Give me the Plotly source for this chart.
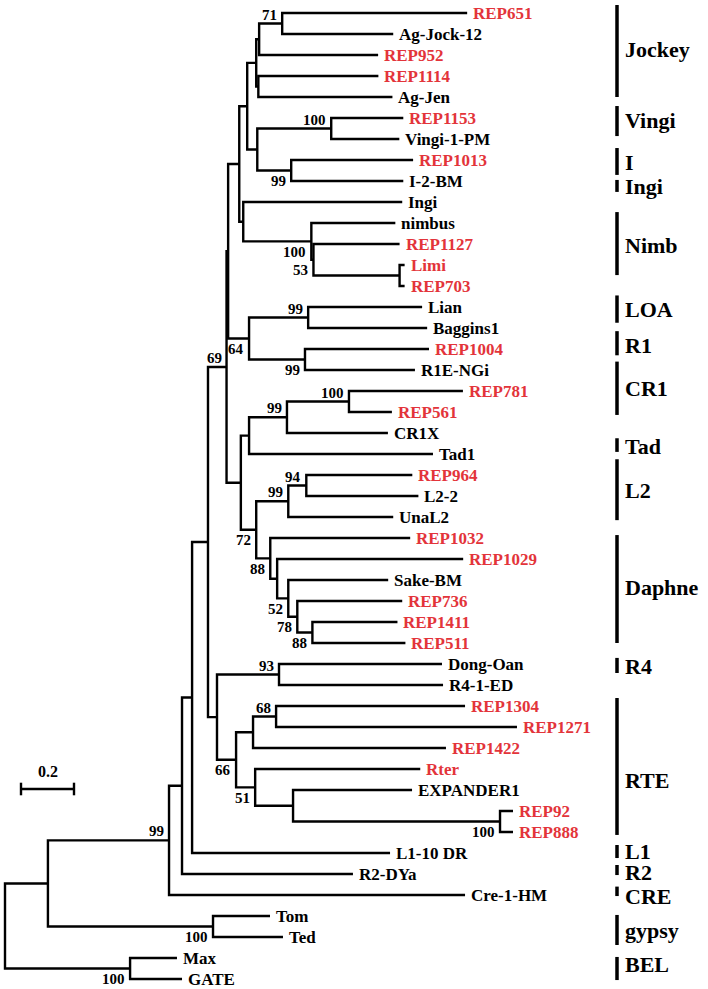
import plotly.graph_objects as go

# ---------------- data ----------------
node = ["root", "T1", "ING", "R2J", "L1J", "N2", "N69", "N1", "F", "D", "C", "A", "N71",
        "REP651", "Ag-Jock-12", "REP952", "B", "REP1114", "Ag-Jen", "E", "VG", "REP1153",
        "Vingi-1-PM", "IN", "REP1013", "I-2-BM", "G", "Ingi", "H", "nimbus", "I53", "REP1127",
        "LR", "Limi", "REP703", "N64", "LOA", "Lian", "Baggins1", "R1", "REP1004", "R1E-NGi",
        "L", "M", "CR99", "CR100", "REP781", "REP561", "CR1X", "Tad1", "N72", "L299", "N94",
        "REP964", "L2-2", "UnaL2", "N88", "REP1032", "P", "REP1029", "N52", "Sake-BM", "N78",
        "REP736", "N88b", "REP1411", "REP511", "RB", "R4", "Dong-Oan", "R4-1-ED", "RTE", "Q",
        "N68", "REP1304", "REP1271", "REP1422", "N51", "Rter", "S", "EXPANDER1", "N100r",
        "REP92", "REP888", "L1-10 DR", "R2-DYa", "Cre-1-HM", "TT", "Tom", "Ted", "MG", "Max",
        "GATE"]
parent = [None, "root", "T1", "ING", "R2J", "L1J", "N2", "N69", "N1", "F", "D", "C", "A",
          "N71", "N71", "A", "C", "B", "B", "D", "E", "VG",
          "VG", "E", "IN", "IN", "F", "G", "G", "H", "H", "I53",
          "I53", "LR", "LR", "N1", "N64", "LOA", "LOA", "N64", "R1", "R1",
          "N69", "L", "M", "CR99", "CR100", "CR100", "CR99", "M", "L", "N72", "L299",
          "N94", "N94", "L299", "N72", "N88", "N88", "P", "P", "N52", "N52",
          "N78", "N78", "N88b", "N88b", "N2", "RB", "R4", "R4", "RB", "RTE",
          "Q", "N68", "N68", "Q", "RTE", "N51", "N51", "S", "S",
          "N100r", "N100r", "L1J", "R2J", "ING", "T1", "TT", "TT", "root", "MG",
          "MG"]
blen = [0.0, 0.162, 0.457, 0.049, 0.038, 0.060, 0.070, 0.006, 0.042, 0.030, 0.034, 0.011, 0.087,
        0.698, 0.419, 0.449, 0.008, 0.453, 0.506, 0.038, 0.279, 0.272,
        0.257, 0.128, 0.460, 0.423, 0.015, 0.600, 0.257, 0.317, 0.008, 0.325,
        0.325, 0.019, 0.019, 0.079, 0.223, 0.430, 0.449, 0.211, 0.468, 0.415,
        0.054, 0.031, 0.143, 0.234, 0.430, 0.162, 0.381, 0.694, 0.058, 0.121, 0.068,
        0.400, 0.423, 0.396, 0.053, 0.528, 0.026, 0.702, 0.042, 0.377, 0.034,
        0.396, 0.057, 0.321, 0.351, 0.034, 0.234, 0.615, 0.619, 0.072, 0.064,
        0.087, 0.713, 0.909, 0.728, 0.072, 0.623, 0.143, 0.449, 0.781,
        0.049, 0.049, 0.747, 0.645, 1.117, 0.623, 0.215, 0.264, 0.472, 0.177,
        0.196]
support_nodes = ["N71", "VG", "IN", "H", "I53", "LOA", "R1", "N64", "N69", "CR100", "CR99",
                 "N94", "L299", "N72", "N88", "N52", "N78", "N88b", "R4", "N68", "RTE",
                 "N51", "N100r", "ING", "TT", "MG"]
support_vals = [71, 100, 99, 100, 53, 99, 99, 64, 69, 100, 99,
                94, 99, 72, 88, 52, 78, 88, 93, 68, 66,
                51, 100, 99, 100, 100]
red_leaves = ["REP651", "REP952", "REP1114", "REP1153", "REP1013", "REP1127", "Limi", "REP703",
              "REP1004", "REP781", "REP561", "REP964", "REP1032", "REP1029", "REP736", "REP1411",
              "REP511", "REP1304", "REP1271", "REP1422", "Rter", "REP92", "REP888"]
# clade brackets, in leaf-row units (row 0 = first leaf)
clade_names = ["Jockey", "Vingi", "I", "Ingi", "Nimb", "LOA", "R1", "CR1", "Tad", "L2", "Daphne",
               "R4", "RTE", "L1", "R2", "CRE", "gypsy", "BEL"]
clade_top = [-0.38, 4.43, 6.43, 7.95, 9.48, 13.45, 15.15, 16.6, 20.25, 21.25, 24.86,
             30.71, 32.62, 39.62, 40.57, 41.6, 42.95, 44.95]
clade_bottom = [4.0, 5.86, 7.71, 8.52, 12.48, 14.75, 16.3, 19.14, 20.9, 24.15, 30.0,
                31.43, 39.14, 40.24, 41.05, 42.05, 44.38, 46.05]
clade_label_row = [1.76, 5.10, 7.14, 8.24, 11.05, 14.14, 15.81, 17.86, 20.62, 22.76, 27.38,
                   31.14, 36.57, 39.95, 40.95, 42.05, 43.71, 45.33]
scale_len = 0.2
scale_label = "0.2"

# ---------------- layout helpers (page pixel geometry) ----------------
PAGE_W, PAGE_H = 708, 989
PX = 265.0            # pixels per unit branch length
X0 = 5.0              # root pixel x on the page
Y0, DY = 13.0, 21.0   # first leaf pixel y on the page, leaf spacing
RED = "#e3343a"
FONT = "Liberation Serif"


def xd(px):
    return (px - X0) / PX


def yd(py):
    return (py - Y0) / DY


children = {n: [] for n in node}
for n, p in zip(node, parent):
    if p is not None:
        children[p].append(n)
depth = {}
for n, p, b in zip(node, parent, blen):
    depth[n] = 0.0 if p is None else depth[p] + b
leaves = [n for n in node if not children[n]]
ypos = {n: float(i) for i, n in enumerate(leaves)}
for n in reversed(node):
    if children[n]:
        ypos[n] = (ypos[children[n][0]] + ypos[children[n][-1]]) / 2

xs, ys = [], []
for n in node:
    ch = children[n]
    if not ch:
        continue
    c0, c1 = ch[0], ch[-1]
    xs += [depth[c0], depth[n], depth[n], depth[c1], None]
    ys += [ypos[c0], ypos[c0], ypos[c1], ypos[c1], None]
    for c in ch[1:-1]:
        xs += [depth[n], depth[c], None]
        ys += [ypos[c], ypos[c], None]

fig = go.Figure()
fig.add_trace(go.Scatter(x=xs, y=ys, mode="lines",
                         line=dict(color="black", width=2.4), hoverinfo="skip",
                         showlegend=False))

ann = []
for n in leaves:
    ann.append(dict(x=depth[n], y=ypos[n], text="<b>%s</b>" % n, showarrow=False,
                    xanchor="left", yanchor="middle", xshift=4,
                    font=dict(family=FONT, size=17,
                              color=RED if n in red_leaves else "black")))

above = {"N71", "VG", "LOA", "N69", "CR100", "CR99", "N94", "L299", "R4", "N68", "ING"}
for n, v in zip(support_nodes, support_vals):
    ann.append(dict(x=depth[n], y=ypos[n], text="<b>%d</b>" % v, showarrow=False,
                    xanchor="right", yanchor="middle", xshift=-3,
                    yshift=9 if n in above else -10.5,
                    font=dict(family=FONT, size=15, color="black")))

# clade bars
clade_x = xd(617)
cx, cy = [], []
for nm, t, b, lr in zip(clade_names, clade_top, clade_bottom, clade_label_row):
    cx += [clade_x, clade_x, None]
    cy += [t, b, None]
    ann.append(dict(x=clade_x, y=lr, text="<b>%s</b>" % nm, showarrow=False,
                    xanchor="left", yanchor="middle", xshift=6,
                    font=dict(family=FONT, size=22, color="black")))
fig.add_trace(go.Scatter(x=cx, y=cy, mode="lines", line=dict(color="black", width=3.5),
                         hoverinfo="skip", showlegend=False))

# scale bar
sb_x0 = xd(21)
sb_y = yd(789)
fig.add_trace(go.Scatter(x=[sb_x0, sb_x0 + scale_len], y=[sb_y, sb_y], mode="lines+markers",
                         line=dict(color="black", width=2.4),
                         marker=dict(symbol="line-ns", size=9,
                                     line=dict(color="black", width=2.4)),
                         hoverinfo="skip", showlegend=False))
ann.append(dict(x=sb_x0 + scale_len / 2, y=sb_y, text="<b>%s</b>" % scale_label,
                showarrow=False, xanchor="center", yanchor="middle", yshift=18,
                font=dict(family=FONT, size=16, color="black")))

fig.update_layout(
    width=PAGE_W, height=PAGE_H, margin=dict(l=0, r=0, t=0, b=0),
    paper_bgcolor="white", plot_bgcolor="white",
    annotations=ann, hovermode=False,
    xaxis=dict(range=[xd(0), xd(PAGE_W)], visible=False, fixedrange=True),
    yaxis=dict(range=[yd(PAGE_H), yd(0)], visible=False, fixedrange=True),
)
fig.write_html("out.html", config={"displayModeBar": False, "staticPlot": True},
               post_script="document.body.style.margin='0';"
                           "document.body.style.overflow='hidden';")
